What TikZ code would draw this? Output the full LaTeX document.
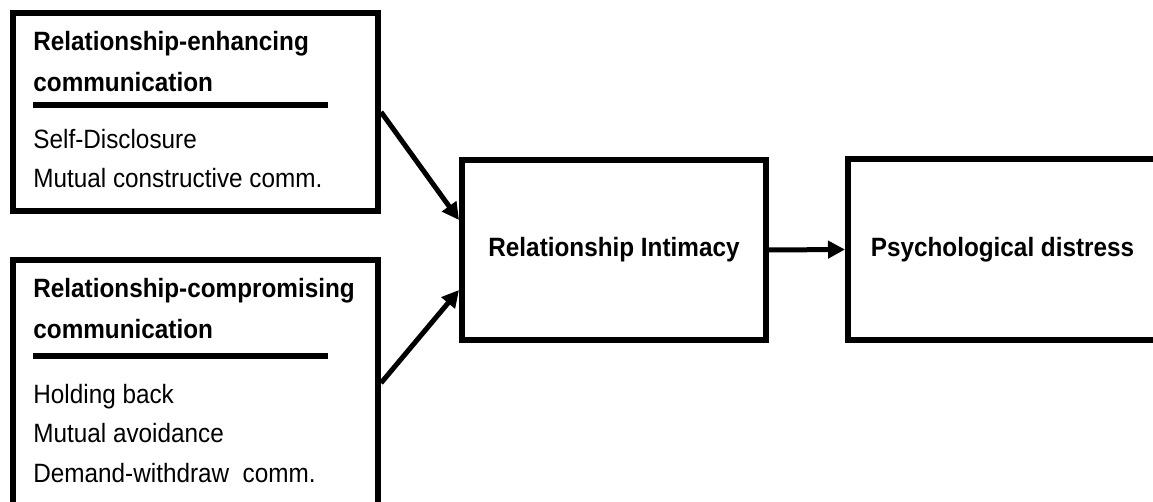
\documentclass[tikz,border=0pt]{standalone}
\usepackage{graphicx}
\usepackage{fontspec}
\setmainfont{Liberation Sans}
\usetikzlibrary{arrows.meta}

\newcommand{\tall}[1]{\scalebox{1}[1.09]{#1}}

\tikzset{
  ibox/.style={draw, rectangle, line width=3bp, inner sep=0pt},
  lbl/.style={anchor=base west, align=left, inner sep=0pt,
    font=\fontsize{12.15bp}{19.75bp}\selectfont},
  ttl/.style={lbl, font=\fontsize{12.15bp}{20.5bp}\selectfont\bfseries},
  rule/.style={line width=3bp},
  link/.style={line width=2.5bp, -{Triangle[length=8.5bp,width=8.5bp]}}
}

\begin{document}
\begin{tikzpicture}[x=0.5bp,y=-0.5bp]
  \useasboundingbox (0,0) rectangle (1153,502);
  \clip (0,0) rectangle (1153,502);

  % the two kinds of communication (base = last line)
  \node[ibox, minimum width=182.5bp, minimum height=99bp] (enhbox) at (195.5,112) {};
  \node[ttl] (enhtitle) at (33,92) {\tall{Relationship-enhancing}\\\tall{communication}};
  \draw[rule] (33,105) -- (328,105);
  \node[lbl] (enhitems) at (33,188) {\tall{Self-Disclosure}\\\tall{Mutual constructive comm.}};

  \node[ibox, minimum width=182.5bp, minimum height=123bp] (cmpbox) at (195.5,383) {};
  \node[ttl] (cmptitle) at (33,338) {\tall{Relationship-compromising}\\\tall{communication}};
  \draw[rule] (33,356) -- (328,356);
  \node[lbl] (cmpitems) at (33,482) {\tall{Holding back}\\\tall{Mutual avoidance}\\\tall{Demand-withdraw~ comm.}};

  % mediator and outcome
  \node[ibox, minimum width=152bp, minimum height=90bp,
    font=\fontsize{12.15bp}{14bp}\selectfont\bfseries] (intim) at (614,250) {\tall{Relationship Intimacy}};
  \node[ibox, minimum width=154.5bp, minimum height=90.5bp,
    font=\fontsize{12.15bp}{14bp}\selectfont\bfseries] (distr) at (1002.5,249.5) {\tall{Psychological distress}};

  \draw[link] (enhbox.east) -- ([yshift=15bp]intim.west);
  \draw[link] (cmpbox.east) -- ([yshift=-20bp]intim.west);
  \draw[link] (intim.east) -- (distr.west);
\end{tikzpicture}
\end{document}
